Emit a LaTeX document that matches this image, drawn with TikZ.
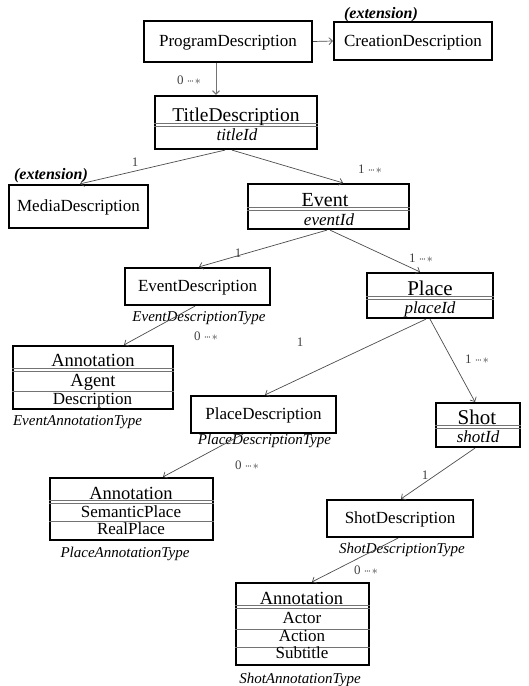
\documentclass[tikz,border=0pt]{standalone}
\usepackage{fontspec}
\setmainfont{Liberation Serif}
\usetikzlibrary{arrows.meta}

\newcommand{\namefont}{\fontsize{17}{20}\selectfont}
\newcommand{\typefont}{\fontsize{15}{18}\selectfont\itshape}
\newcommand{\extfont}{\fontsize{16}{19}\selectfont\bfseries\itshape}
\newcommand{\multfont}{\fontsize{13}{15}\selectfont}
\newcommand{\manydots}{${\cdot}\mkern-2mu{\cdot}\mkern-2mu{\cdot}\mkern1mu{\ast}$}

\tikzset{
  umlbox/.style={draw=black, line width=2.2pt, inner sep=0pt,
    text height=12pt, text depth=1.5pt, font=\namefont},
  txt/.style={inner sep=0pt, text height=12pt, text depth=1.5pt},
  conn/.style={draw=black!70, line width=0.7pt, ->},
  sep/.style={draw=black!55, line width=0.7pt},
}

\begin{document}
\begin{tikzpicture}[x=1pt,y=-1pt,>={Straight Barb[length=3.5pt,width=7pt]}]
        \useasboundingbox (0,0) rectangle (528,686);

        % draw the plain boxes
        \node[umlbox, minimum width=168pt, minimum height=41pt] (prog) at (228,41.5) {ProgramDescription};
        \node[umlbox, minimum width=158pt, minimum height=38pt] (creat) at (413,41) {CreationDescription};
        \node[umlbox, minimum width=139pt, minimum height=43pt] (media) at (78.5,206.5) {MediaDescription};
        \node[umlbox, minimum width=145pt, minimum height=37pt] (evdesc) at (197.5,286.5) {EventDescription};
        \node[umlbox, minimum width=145pt, minimum height=37pt] (pldesc) at (263.5,414.5) {PlaceDescription};
        \node[umlbox, minimum width=146pt, minimum height=37pt] (shdesc) at (400,518.5) {ShotDescription};

        % draw the boxes with compartments
        \node[umlbox, minimum width=162pt, minimum height=53pt] (title) at (236,122.5) {};
        \node[umlbox, minimum width=161pt, minimum height=45pt] (event) at (328.5,206.5) {};
        \node[umlbox, minimum width=126pt, minimum height=45pt] (place) at (430,295.5) {};
        \node[umlbox, minimum width=84pt, minimum height=44pt] (shot) at (478,425) {};
        \node[umlbox, minimum width=160pt, minimum height=63pt] (annev) at (93,377.5) {};
        \node[umlbox, minimum width=163pt, minimum height=62pt] (annpl) at (131.5,509) {};
        \node[umlbox, minimum width=133pt, minimum height=82pt] (annsh) at (302.5,624) {};

        % the compartment lines
        \foreach \b/\y in {
            title/123, title/126,
            event/207.5, event/210.5,
            place/296, place/299,
            shot/425, shot/428,
            annev/368, annev/371.5, annev/391.5,
            annpl/500, annpl/503, annpl/521,
            annsh/605, annsh/608.5, annsh/629, annsh/647}
                \draw[sep] (\b.west |- 0,\y) -- (\b.east |- 0,\y);

        % the class names sit on the double line
        \foreach \b/\x/\y/\s/\t in {
            title/236/121/19.5/TitleDescription,
            event/325/206.5/20/Event,
            place/430/295/21/Place,
            shot/477/424/21/Shot,
            annev/93/366.5/18.5/Annotation,
            annpl/131/499/18.5/Annotation,
            annsh/301.5/604.5/18.5/Annotation}
                \node[anchor=base, inner sep=0pt, font=\fontsize{\s}{\s}\selectfont] (\b-head) at (\x,\y) {\t};

        % the ids
        \foreach \b/\x/\y/\t in {
            title/237/135/titleId,
            event/329/220/eventId,
            place/430/308/placeId,
            shot/478/437/shotId}
                \node[txt, font=\namefont\itshape] (\b-id) at (\x,\y) {\t};

        % the attribute rows
        \foreach \b/\n/\x/\y/\s/\t in {
            annev/a/93/381/18.5/Agent,
            annev/b/92.5/399/17/Description,
            annpl/a/131/512/17/SemanticPlace,
            annpl/b/131/529/17/RealPlace,
            annsh/a/302/618/17/Actor,
            annsh/b/302/636/17/Action,
            annsh/c/302/653/17/Subtitle}
                \node[txt, font=\fontsize{\s}{\s}\selectfont] (\b-\n) at (\x,\y) {\t};

        % the type names under the boxes
        \foreach \b/\x/\y/\t in {
            evdesc/199/316/EventDescriptionType,
            annev/77.5/420/EventAnnotationType,
            pldesc/264.5/439/PlaceDescriptionType,
            annpl/125/552/PlaceAnnotationType,
            shdesc/402/548/ShotDescriptionType,
            annsh/300/678/ShotAnnotationType}
                \node[txt, font=\typefont] (\b-type) at (\x,\y) {\t};

        % extension marks
        \node[txt, font=\extfont] (creat-ext) at (381,13) {(extension)};
        \node[txt, font=\extfont] (media-ext) at (51,174) {(extension)};

        % draw the connectors
        \draw[conn] (prog.east) -- (creat.west);
        \draw[conn, draw=black!55, line width=1pt] ([xshift=-12pt]prog.south) -- ([xshift=-20pt]title.north);
        \draw[conn] ([xshift=-11pt]title.south) -- ([xshift=1.5pt]media.north);
        \draw[conn] ([xshift=-4pt]title.south) -- ([xshift=14.5pt]event.north);
        \draw[conn] ([xshift=-1.5pt]event.south) -- ([xshift=1.5pt]evdesc.north);
        \draw[conn] ([xshift=1.5pt]event.south) -- ([xshift=-10pt]place.north);
        \draw[conn] ([xshift=-2.5pt]evdesc.south) -- ([xshift=31pt]annev.north);
        \draw[conn] ([xshift=-4pt]place.south) -- ([xshift=1.5pt]pldesc.north);
        \draw[conn] (place.south) -- ([xshift=-3pt]shot.north);
        \draw[conn] ([xshift=-20.5pt]pldesc.south) -- ([xshift=31.5pt]annpl.north);
        \draw[conn] ([xshift=-3pt]shot.south) -- ([xshift=1pt]shdesc.north);
        \draw[conn] ([xshift=-2pt]shdesc.south) -- ([xshift=9.5pt]annsh.north);

        % draw the multiplicities
        \foreach \n/\x/\y/\t in {
            m1/189/80/{0 \manydots},
            m2/135/162/{1},
            m3/370/169/{1 \manydots},
            m4/238/253/{1},
            m5/421/258/{1 \manydots},
            m6/206/336/{0 \manydots},
            m7/300/342/{1},
            m8/477/359/{1 \manydots},
            m9/247/465/{0 \manydots},
            m10/425/475/{1},
            m11/366/570/{0 \manydots}}
                \node[txt, text height=9pt, text depth=1pt, font=\multfont, text=black!75] (\n) at (\x,\y) {\t};
\end{tikzpicture}
\end{document}
